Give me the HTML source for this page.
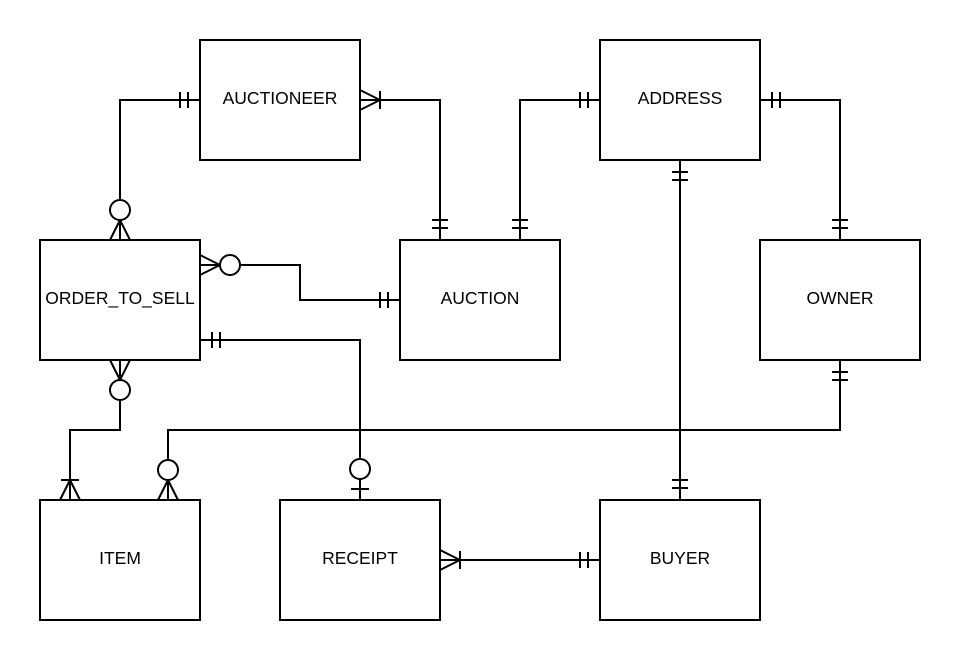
<!DOCTYPE html>
<html><head><meta charset="utf-8"><style>
html,body{margin:0;padding:0;background:#fff;}
svg{display:block;}
text{font-family:"Liberation Sans",Arial,sans-serif;font-size:17.5px;fill:#000;}
</style></head><body>
<svg width="960" height="660" viewBox="0 0 960 660" xmlns="http://www.w3.org/2000/svg">
<defs>
<g id="one"><line x1="12" y1="-8" x2="12" y2="8"/><line x1="20" y1="-8" x2="20" y2="8"/></g>
<g id="zmany"><line x1="0" y1="-10" x2="20" y2="0"/><line x1="0" y1="10" x2="20" y2="0"/><circle cx="30" cy="0" r="10" fill="#fff"/></g>
<g id="omany"><line x1="0" y1="-10" x2="20" y2="0"/><line x1="0" y1="10" x2="20" y2="0"/><line x1="20" y1="-9" x2="20" y2="9"/></g>
<g id="zone"><line x1="11" y1="-9" x2="11" y2="9"/><circle cx="31" cy="0" r="10" fill="#fff"/></g>
</defs>
<g fill="none" stroke="#000" stroke-width="2">
<polyline points="200,100 120,100 120,240"/>
<polyline points="360,100 440,100 440,240"/>
<polyline points="600,100 520,100 520,240"/>
<polyline points="760,100 840,100 840,240"/>
<polyline points="680,160 680,500"/>
<polyline points="200,265 300,265 300,300 400,300"/>
<polyline points="200,340 360,340 360,500"/>
<polyline points="120,360 120,430 70,430 70,500"/>
<polyline points="840,360 840,430 168,430 168,500"/>
<polyline points="440,560 600,560"/>
<rect x="200" y="40" width="160" height="120" fill="#fff"/>
<rect x="600" y="40" width="160" height="120" fill="#fff"/>
<rect x="40" y="240" width="160" height="120" fill="#fff"/>
<rect x="400" y="240" width="160" height="120" fill="#fff"/>
<rect x="760" y="240" width="160" height="120" fill="#fff"/>
<rect x="40" y="500" width="160" height="120" fill="#fff"/>
<rect x="280" y="500" width="160" height="120" fill="#fff"/>
<rect x="600" y="500" width="160" height="120" fill="#fff"/>
<use href="#one" transform="translate(200,100) rotate(180)"/>
<use href="#zmany" transform="translate(120,240) rotate(-90)"/>
<use href="#omany" transform="translate(360,100)"/>
<use href="#one" transform="translate(440,240) rotate(-90)"/>
<use href="#one" transform="translate(600,100) rotate(180)"/>
<use href="#one" transform="translate(520,240) rotate(-90)"/>
<use href="#one" transform="translate(760,100)"/>
<use href="#one" transform="translate(840,240) rotate(-90)"/>
<use href="#one" transform="translate(680,160) rotate(90)"/>
<use href="#one" transform="translate(680,500) rotate(-90)"/>
<use href="#zmany" transform="translate(200,265)"/>
<use href="#one" transform="translate(400,300) rotate(180)"/>
<use href="#one" transform="translate(200,340)"/>
<use href="#zone" transform="translate(360,500) rotate(-90)"/>
<use href="#zmany" transform="translate(120,360) rotate(90)"/>
<use href="#omany" transform="translate(70,500) rotate(-90)"/>
<use href="#one" transform="translate(840,360) rotate(90)"/>
<use href="#zmany" transform="translate(168,500) rotate(-90)"/>
<use href="#omany" transform="translate(440,560)"/>
<use href="#one" transform="translate(600,560) rotate(180)"/>
</g>
<g text-anchor="middle">
<text x="280" y="104">AUCTIONEER</text>
<text x="680" y="104">ADDRESS</text>
<text x="120" y="304">ORDER_TO_SELL</text>
<text x="480" y="304">AUCTION</text>
<text x="840" y="304">OWNER</text>
<text x="120" y="564">ITEM</text>
<text x="360" y="564">RECEIPT</text>
<text x="680" y="564">BUYER</text>
</g>
</svg>
</body></html>
